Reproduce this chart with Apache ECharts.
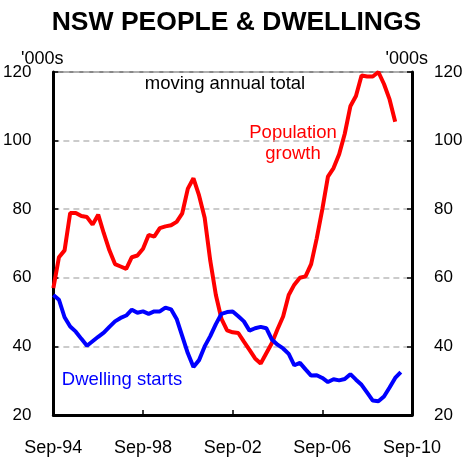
<!DOCTYPE html>
<html>
<head>
<meta charset="utf-8">
<script src="https://cdn.jsdelivr.net/npm/echarts@6/dist/echarts.min.js"></script>
<style>html,body{margin:0;padding:0;background:#fff}#c{width:473px;height:459px}</style>
</head>
<body>
<div id="c"></div>
<script>
// Quarterly categories Sep-94 .. Sep-10
var quarters = [];
(function(){
  var m = ['Mar','Jun','Sep','Dec'];
  var y = 1994, q = 2;
  for (var i = 0; i < 65; i++) {
    quarters.push(m[q] + '-' + String(y % 100).padStart(2, '0'));
    q++; if (q > 3) { q = 0; y++; }
  }
})();

var populationGrowth = [
  57, 66, 68, 78.9, 78.9, 78, 77.7, 75.5, 78.4, 73,
  68, 64, 63.3, 62.6, 66, 66.5, 68.5, 72.5, 72, 74.5,
  75, 75.3, 76.3, 78.8, 86, 89, 84, 77.5, 65, 55,
  48, 44.7, 44.1, 43.9, 41.4, 39, 36.5, 35, 38, 41,
  45, 48.7, 55, 58, 60, 60.4, 64, 71.5, 80, 89.5,
  92, 96, 102, 110, 113, 119, 118.7, 118.7, 120, 116.5,
  112, 105.5, null, null, null
];

var dwellingStarts = [
  55, 53.6, 48.5, 45.8, 44.3, 42.2, 40.2, 41.5, 42.8, 44,
  45.7, 47.3, 48.3, 49, 50.7, 49.8, 50.2, 49.5, 50.2, 50.2,
  51.3, 50.8, 48, 43, 38, 34, 36, 40, 43, 46.5,
  49.5, 50, 50.2, 48.8, 47.3, 44.6, 45.3, 45.7, 45.3, 42,
  40.5, 39.4, 37.8, 34.5, 35.2, 33.3, 31.5, 31.6, 30.8, 29.6,
  30.4, 30.1, 30.5, 31.9, 30.3, 28.8, 26.5, 24.2, 24, 25.4,
  28, 30.8, 32.5, null, null
];

var yTicks = [20, 40, 60, 80, 100, 120];

var chart = echarts.init(document.getElementById('c'));
var font = 'Liberation Sans, Arial, sans-serif';
var gridLeft = 49, gridRight = 61, gridTop = 72, gridBottom = 44;

function yAxisCfg(pos) {
  return {
    type: 'value', position: pos,
    min: yTicks[0], max: yTicks[yTicks.length - 1], interval: 20,
    axisLine: { show: true, onZero: false, lineStyle: { color: '#000', width: 3 } },
    axisTick: { show: true, inside: true, length: 5, lineStyle: { color: '#000', width: 1.5 } },
    axisLabel: { color: '#000', fontSize: 17, fontFamily: font, margin: 22 },
    splitLine: { show: pos === 'left', lineStyle: { color: '#bbbbbb', width: 1.5, type: [6, 4] } }
  };
}

chart.setOption({
  animation: false,
  backgroundColor: '#fff',
  title: {
    text: 'NSW PEOPLE & DWELLINGS', left: 'center', top: 4,
    textStyle: { fontSize: 26.5, fontWeight: 'bold', color: '#000', fontFamily: font }
  },
  grid: {
    left: gridLeft, right: gridRight, top: gridTop, bottom: gridBottom,
    show: true, borderColor: '#888', borderWidth: 2, backgroundColor: 'transparent'
  },
  xAxis: {
    type: 'category', data: quarters, boundaryGap: false,
    axisLine: { lineStyle: { color: '#000', width: 3 } },
    axisTick: { show: true, inside: true, length: 5, interval: 15, lineStyle: { color: '#000', width: 1.5 } },
    axisLabel: { interval: 15, color: '#000', fontSize: 18, fontFamily: font, margin: 24 },
    splitLine: { show: false }
  },
  yAxis: [yAxisCfg('left'), yAxisCfg('right')],
  series: [
    {
      name: 'Population growth', type: 'line', data: populationGrowth, yAxisIndex: 0,
      showSymbol: false, symbol: 'none', lineStyle: { color: '#ff0000', width: 4 }, z: 3
    },
    {
      name: 'Dwelling starts', type: 'line', data: dwellingStarts, yAxisIndex: 1,
      showSymbol: false, symbol: 'none', lineStyle: { color: '#0000ff', width: 4 }, z: 4
    }
  ],
  graphic: [
    { type: 'text', left: 21, top: 50, style: { text: "'000s", fontSize: 18, fontFamily: font, fill: '#000' } },
    { type: 'text', right: 45, top: 50, style: { text: "'000s", fontSize: 18, fontFamily: font, fill: '#000' } },
    { type: 'text', x: 225, y: 84, style: { text: 'moving annual total', fontSize: 18.5, fontFamily: font, fill: '#000', align: 'center', verticalAlign: 'middle' } },
    { type: 'text', x: 293, y: 143, style: { text: 'Population\ngrowth', fontSize: 18.5, lineHeight: 21, fontFamily: font, fill: '#ff0000', align: 'center', verticalAlign: 'middle' } },
    { type: 'text', x: 122, y: 380, style: { text: 'Dwelling starts', fontSize: 18.5, fontFamily: font, fill: '#0000ff', align: 'center', verticalAlign: 'middle' } }
  ]
});
</script>
</body>
</html>
